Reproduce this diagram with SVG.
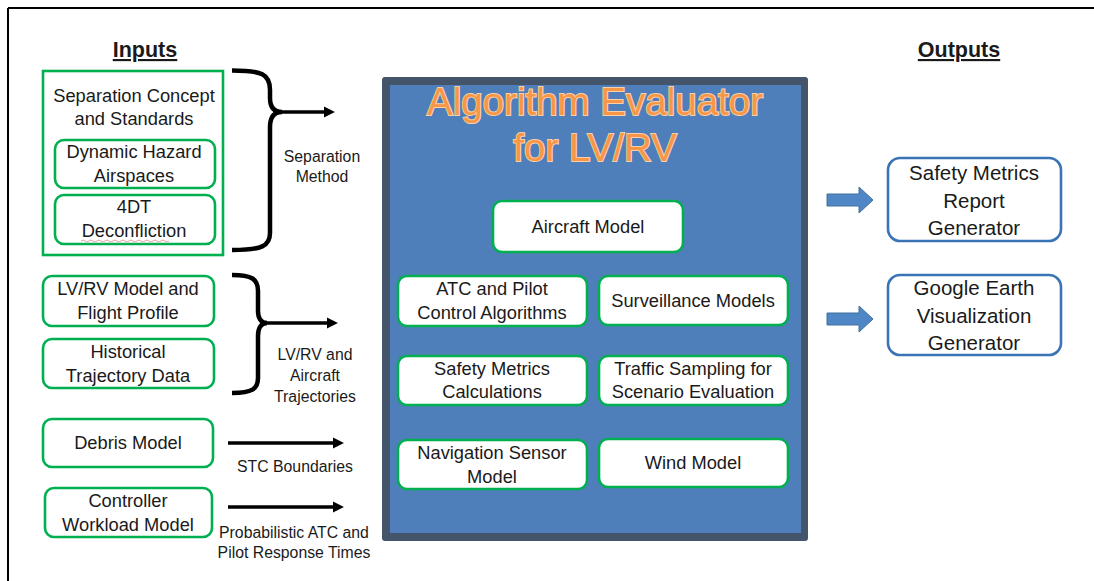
<svg xmlns="http://www.w3.org/2000/svg" width="1094" height="581" viewBox="0 0 1094 581">
<defs>
<style>
.t{font-family:"Liberation Sans",Arial,sans-serif;fill:#1a1a1a;text-anchor:middle}
.b{font-size:18.3px}
.s{font-size:15.8px}
.o{font-size:20.5px}
.h{font-size:21.5px;font-weight:bold;text-decoration:underline}
.g{fill:#fff;stroke:#00B050;stroke-width:2.6}
.ob{fill:#fff;stroke:#3A74B4;stroke-width:2.6}
.brace{fill:none;stroke:#000;stroke-width:4.5;stroke-linecap:butt}
.arr{fill:none;stroke:#000;stroke-width:3.5}
.blk{fill:#4F86C6;stroke:#41719C;stroke-width:1}
.title{font-family:"Liberation Sans",Arial,sans-serif;font-size:38.5px;fill:#F79646;stroke:#FBD0A8;stroke-width:2;paint-order:stroke;text-anchor:middle}
</style>
<marker id="ah" viewBox="0 0 10 10" refX="2" refY="5" markerWidth="3.2" markerHeight="3.2" orient="auto" markerUnits="strokeWidth">
<path d="M0,0 L10,5 L0,10 z" fill="#000"/>
</marker>
</defs>
<rect width="1094" height="581" fill="#fff"/>
<path d="M8,8 H1094 M8,8 V581" stroke="#000" stroke-width="2" fill="none"/>

<text class="t h" x="145" y="57">Inputs</text>
<text class="t h" x="959" y="57">Outputs</text>

<g id="sep-concept">
<rect x="43" y="71" width="180" height="184" fill="#fff" stroke="#00B050" stroke-width="2.6"/>
<text class="t b" x="134" y="102">Separation Concept</text>
<text class="t b" x="134" y="125">and Standards</text>
</g>
<g id="dyn-hazard">
<rect class="g" x="55" y="140" width="160" height="48" rx="9"/>
<text class="t b" x="134" y="158">Dynamic Hazard</text>
<text class="t b" x="134" y="182">Airspaces</text>
</g>
<g id="deconfliction">
<rect class="g" x="55" y="195" width="160" height="49" rx="9"/>
<text class="t b" x="134" y="213">4DT</text>
<text class="t b" x="134" y="237">Deconfliction</text>
<path d="M81,241 q2,-2 4,0 t4,0 t4,0 t4,0 t4,0 t4,0 t4,0 t4,0 t4,0 t4,0 t4,0 t4,0 t4,0 t4,0 t4,0 t4,0 t4,0 t4,0 t4,0 t4,0 t4,0 t4,0" fill="none" stroke="#E8A0A0" stroke-width="1"/>
</g>
<g id="lvrv-model">
<rect class="g" x="43" y="276" width="171" height="50" rx="9"/>
<text class="t b" x="128" y="295">LV/RV Model and</text>
<text class="t b" x="128" y="319">Flight Profile</text>
</g>
<g id="historical">
<rect class="g" x="43" y="339" width="171" height="49" rx="9"/>
<text class="t b" x="128" y="358">Historical</text>
<text class="t b" x="128" y="382">Trajectory Data</text>
</g>
<g id="debris">
<rect class="g" x="43" y="419" width="170" height="48" rx="9"/>
<text class="t b" x="128" y="449">Debris Model</text>
</g>
<g id="controller">
<rect class="g" x="45" y="488" width="167" height="49" rx="9"/>
<text class="t b" x="128" y="507">Controller</text>
<text class="t b" x="128" y="531">Workload Model</text>
</g>

<g id="evaluator">
<rect x="382" y="77" width="426" height="464" rx="3" fill="#44546A"/>
<rect x="390" y="85" width="411" height="448" fill="#4F7FBA"/>
<text class="title" x="595" y="115">Algorithm Evaluator</text>
<text class="title" x="595" y="161">for LV/RV</text>
</g>
<g id="aircraft-model">
<rect class="g" x="493" y="201" width="190" height="51" rx="9"/>
<text class="t b" x="588" y="233">Aircraft Model</text>
</g>
<g id="atc-pilot">
<rect class="g" x="398" y="276" width="189" height="50" rx="9"/>
<text class="t b" x="492" y="295">ATC and Pilot</text>
<text class="t b" x="492" y="319">Control Algorithms</text>
</g>
<g id="surveillance">
<rect class="g" x="599" y="276" width="189" height="49" rx="9"/>
<text class="t b" x="693" y="307">Surveillance Models</text>
</g>
<g id="safety-calc">
<rect class="g" x="398" y="356" width="189" height="49" rx="9"/>
<text class="t b" x="492" y="375">Safety Metrics</text>
<text class="t b" x="492" y="398">Calculations</text>
</g>
<g id="traffic">
<rect class="g" x="599" y="356" width="189" height="49" rx="9"/>
<text class="t b" x="693" y="375">Traffic Sampling for</text>
<text class="t b" x="693" y="398">Scenario Evaluation</text>
</g>
<g id="navigation">
<rect class="g" x="398" y="440" width="189" height="49" rx="9"/>
<text class="t b" x="492" y="459">Navigation Sensor</text>
<text class="t b" x="492" y="483">Model</text>
</g>
<g id="wind">
<rect class="g" x="599" y="439" width="189" height="48" rx="9"/>
<text class="t b" x="693" y="469">Wind Model</text>
</g>

<g id="safety-report">
<rect class="ob" x="888" y="158" width="173" height="83" rx="12"/>
<text class="t o" x="974" y="180">Safety Metrics</text>
<text class="t o" x="974" y="208">Report</text>
<text class="t o" x="974" y="235">Generator</text>
</g>
<g id="google-earth">
<rect class="ob" x="888" y="275" width="173" height="80" rx="12"/>
<text class="t o" x="974" y="295">Google Earth</text>
<text class="t o" x="974" y="323">Visualization</text>
<text class="t o" x="974" y="350">Generator</text>
</g>

<g id="connectors">
<path class="brace" d="M232,70.5 C262,70.5 270,74 270,90 L270,98 C270,107 274,112 282,112 C274,112 270,117 270,127 L270,233 C270,246 262,250 232,250"/>
<path class="arr" d="M282,112 H326" marker-end="url(#ah)"/>
<path class="brace" d="M232,275 C252,275 258,279 258,291 L258,311 C258,318 261,323 267,323 C261,323 258,328 258,336 L258,378 C258,389 252,393 232,393"/>
<path class="arr" d="M266,323 H329" marker-end="url(#ah)"/>
<path class="arr" d="M228,443 H335" marker-end="url(#ah)"/>
<path class="arr" d="M228,507 H335" marker-end="url(#ah)"/>
<polygon class="blk" points="827,194 859,194 859,187 873,200 859,213 859,206 827,206"/>
<polygon class="blk" points="827,313 859,313 859,306 873,319 859,332 859,325 827,325"/>
</g>

<text class="t s" x="322" y="162">Separation</text>
<text class="t s" x="322" y="182">Method</text>
<text class="t s" x="315" y="360">LV/RV and</text>
<text class="t s" x="315" y="381">Aircraft</text>
<text class="t s" x="315" y="402">Trajectories</text>
<text class="t s" x="295" y="472">STC Boundaries</text>
<text class="t s" x="294" y="538">Probabilistic ATC and</text>
<text class="t s" x="294" y="558">Pilot Response Times</text>
</svg>
